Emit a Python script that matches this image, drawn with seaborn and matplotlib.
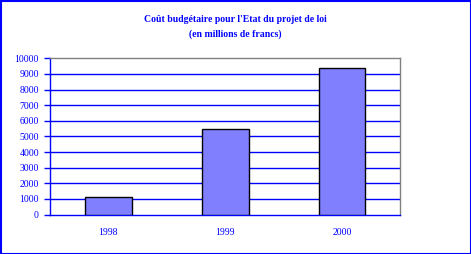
import matplotlib
matplotlib.use("Agg")
import matplotlib.pyplot as plt
import seaborn as sns
import pandas as pd
from matplotlib.patches import Rectangle

years = ["1998", "1999", "2000"]
values = [1100, 5450, 9350]
yticks = [0, 1000, 2000, 3000, 4000, 5000, 6000, 7000, 8000, 9000, 10000]
title_lines = ["Coût budgétaire pour l'Etat du projet de loi", "(en millions de francs)"]

BLUE = "#0000FF"
sns.set_theme(style="white")
plt.rcParams["font.family"] = ["Liberation Serif", "DejaVu Serif"]

fig = plt.figure(figsize=(4.71, 2.54), dpi=100)
ax = fig.add_axes([50 / 471, 1 - 214.5 / 254, 350.5 / 471, 156.2 / 254])

df = pd.DataFrame({"year": years, "value": values})
sns.barplot(data=df, x="year", y="value", ax=ax, color="#8080FF", saturation=1,
            width=0.4, edgecolor="black", linewidth=1, zorder=3)

ax.set_xlim(-0.5, 2.5)
ax.set_ylim(0, 10000)
ax.set_yticks(yticks)
ax.set_yticklabels([str(v) for v in yticks])
ax.set_xlabel("")
ax.set_ylabel("")

for v in yticks[1:-1]:
    ax.axhline(v, color=BLUE, lw=1, zorder=1)

ax.set_xticks([-0.5, 0.5, 1.5, 2.5], minor=True)
ax.tick_params(axis="x", which="minor", length=4, width=1, color=BLUE, direction="out")
ax.tick_params(axis="x", which="major", length=0, pad=10, labelsize=7, labelcolor=BLUE)
ax.tick_params(axis="y", which="major", length=4, width=1, color=BLUE, direction="out",
               pad=4, labelsize=7, labelcolor=BLUE)
ax.tick_params(bottom=True, left=True)

for s in ["left", "bottom"]:
    ax.spines[s].set_color(BLUE)
    ax.spines[s].set_linewidth(1)
for s in ["top", "right"]:
    ax.spines[s].set_color("#808080")
    ax.spines[s].set_linewidth(1)
    ax.spines[s].set_visible(True)

fig.text(235.5 / 471, 1 - 20 / 254, title_lines[0], ha="center", va="center",
         color=BLUE, fontsize=7, fontweight="bold")
fig.text(235.5 / 471, 1 - 34 / 254, title_lines[1], ha="center", va="center",
         color=BLUE, fontsize=7, fontweight="bold")

fig.patches.append(Rectangle((0.5 / 471, 0.5 / 254), 470 / 471, 253 / 254,
                             transform=fig.transFigure, fill=False,
                             edgecolor=BLUE, linewidth=1.5, zorder=10))

fig.savefig("out.png", dpi=100)
